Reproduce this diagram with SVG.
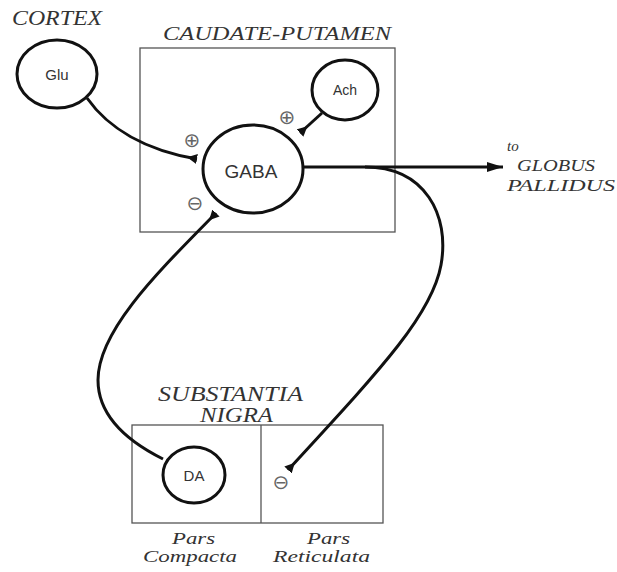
<svg xmlns="http://www.w3.org/2000/svg" width="617" height="572" viewBox="0 0 617 572">
<defs>
<style>
.bg{fill:#ffffff}
.box{fill:none;stroke:#555;stroke-width:1.3}
.node{fill:#fff;stroke:#111;stroke-width:3}
.conn{fill:none;stroke:#111;stroke-width:3}
.lbl{font-family:"Liberation Serif",serif;font-style:italic;fill:#333}
.nl{font-family:"Liberation Sans",sans-serif;fill:#333;text-anchor:middle}
.sign{font-family:"DejaVu Sans",sans-serif;fill:#666;text-anchor:middle}
</style>
<marker id="wedge" viewBox="0 0 10 10" refX="10" refY="5" markerWidth="10" markerHeight="10" markerUnits="userSpaceOnUse" orient="auto">
<path d="M0,5 L10,0 L10,10 Z" fill="#111"/>
</marker>
<marker id="arrow" viewBox="0 0 16 10" refX="16" refY="5" markerWidth="16" markerHeight="10" markerUnits="userSpaceOnUse" orient="auto">
<path d="M0,0 L16,5 L0,10 Z" fill="#111"/>
</marker>
</defs>
<rect class="bg" x="0" y="0" width="617" height="572"/>

<g id="caudate-putamen">
<rect class="box" x="140" y="48" width="255" height="184"/>
<text class="lbl" x="163" y="40" font-size="18" textLength="228" lengthAdjust="spacingAndGlyphs">CAUDATE-PUTAMEN</text>
</g>

<g id="substantia-nigra">
<rect class="box" x="132" y="425" width="251" height="98"/>
<line class="box" x1="261" y1="425" x2="261" y2="523"/>
<text class="lbl" x="158" y="401" font-size="20" textLength="145" lengthAdjust="spacingAndGlyphs">SUBSTANTIA</text>
<text class="lbl" x="200" y="422" font-size="20" textLength="73" lengthAdjust="spacingAndGlyphs">NIGRA</text>
<text class="lbl" x="172" y="544" font-size="17" textLength="43" lengthAdjust="spacingAndGlyphs">Pars</text>
<text class="lbl" x="143" y="562" font-size="17" textLength="94" lengthAdjust="spacingAndGlyphs">Compacta</text>
<text class="lbl" x="307" y="544" font-size="17" textLength="43" lengthAdjust="spacingAndGlyphs">Pars</text>
<text class="lbl" x="273" y="562" font-size="17" textLength="97" lengthAdjust="spacingAndGlyphs">Reticulata</text>
</g>

<g id="cortex-label">
<text class="lbl" x="12" y="25" font-size="20" textLength="90" lengthAdjust="spacingAndGlyphs">CORTEX</text>
</g>

<g id="globus-pallidus-label">
<text class="lbl" x="507" y="151" font-size="15">to</text>
<text class="lbl" x="517" y="171" font-size="16" textLength="78" lengthAdjust="spacingAndGlyphs">GLOBUS</text>
<text class="lbl" x="507" y="191" font-size="16" textLength="108" lengthAdjust="spacingAndGlyphs">PALLIDUS</text>
</g>

<g id="connectors">
<path class="conn" d="M87,98 C108,128 145,150 197,159" marker-end="url(#wedge)"/>
<path class="conn" d="M322,113 Q311,123 300,133" marker-end="url(#wedge)"/>
<path class="conn" d="M303,167 L503,167" marker-end="url(#arrow)"/>
<path class="conn" d="M365,167 C425,167 450,215 441,265 C432,315 380,370 288,470" marker-end="url(#wedge)"/>
<path class="conn" d="M163,459 C125,440 98,415 98,380 C98,330 160,270 216,213" marker-end="url(#wedge)"/>
</g>

<g id="glu">
<ellipse class="node" cx="57" cy="74" rx="40" ry="34"/>
<text class="nl" x="57" y="80" font-size="15">Glu</text>
</g>

<g id="gaba">
<ellipse class="node" cx="253" cy="169" rx="50" ry="44"/>
<text class="nl" x="251" y="178" font-size="19">GABA</text>
</g>

<g id="ach">
<ellipse class="node" cx="345" cy="90" rx="33" ry="30"/>
<text class="nl" x="345" y="95" font-size="14">Ach</text>
</g>

<g id="da">
<ellipse class="node" cx="194" cy="475" rx="31" ry="28"/>
<text class="nl" x="194" y="481" font-size="15">DA</text>
</g>

<g id="signs">
<text class="sign" x="192" y="147" font-size="20">⊕</text>
<text class="sign" x="287" y="124" font-size="20">⊕</text>
<text class="sign" x="195" y="210" font-size="20">⊖</text>
<text class="sign" x="281" y="489" font-size="20">⊖</text>
</g>
</svg>
